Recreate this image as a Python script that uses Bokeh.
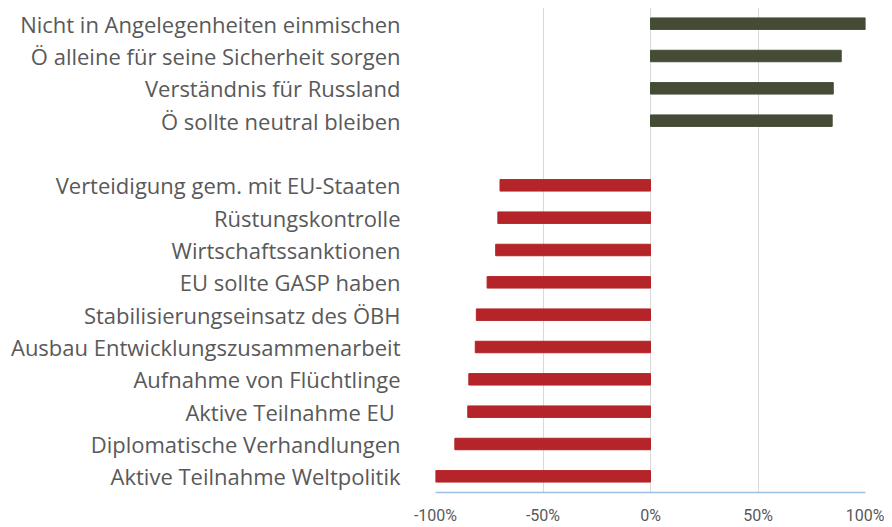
from bokeh.plotting import figure
from bokeh.models import ColumnDataSource, FixedTicker, NumeralTickFormatter, Range1d
from bokeh.embed import file_html
from bokeh.resources import INLINE

top_labels = ["Nicht in Angelegenheiten einmischen",
              "Ö alleine für seine Sicherheit sorgen",
              "Verständnis für Russland",
              "Ö sollte neutral bleiben"]
top_values = [1.00, 0.887, 0.85, 0.845]

bottom_labels = ["Verteidigung gem. mit EU-Staaten",
                 "Rüstungskontrolle",
                 "Wirtschaftssanktionen",
                 "EU sollte GASP haben",
                 "Stabilisierungseinsatz des ÖBH",
                 "Ausbau Entwicklungszusammenarbeit",
                 "Aufnahme von Flüchtlinge",
                 "Aktive Teilnahme EU ",
                 "Diplomatische Verhandlungen",
                 "Aktive Teilnahme Weltpolitik"]
bottom_values = [-0.70, -0.71, -0.72, -0.76, -0.81, -0.815, -0.845, -0.85, -0.91, -1.00]

x_ticks = [-1.0, -0.5, 0.0, 0.5, 1.0]

GREEN = "#454C35"
RED = "#B42428"
TEXT = "#595959"

order = top_labels + [""] + bottom_labels
n = len(order)
ypos = {lab: n - 1 - i for i, lab in enumerate(order)}

top_src = ColumnDataSource(dict(y=[ypos[l] for l in top_labels], v=top_values))
bot_src = ColumnDataSource(dict(y=[ypos[l] for l in bottom_labels], v=bottom_values))

p = figure(width=884, height=527, output_backend="svg", toolbar_location=None,
           x_range=Range1d(-1, 1), y_range=Range1d(-0.5, n - 0.5),
           min_border_left=435, min_border_right=19, min_border_top=7, min_border_bottom=34)
p.outline_line_color = None
p.background_fill_color = "white"
p.border_fill_color = "white"

p.hbar(y="y", left=0, right="v", height=0.355, source=top_src, color=GREEN)
p.hbar(y="y", left=0, right="v", height=0.355, source=bot_src, color=RED)

p.xaxis.ticker = FixedTicker(ticks=x_ticks)
p.xaxis.formatter = NumeralTickFormatter(format="0%")
p.xaxis.axis_line_color = "#9DBFE6"
p.xaxis.axis_line_width = 1.5
p.xaxis.major_tick_line_color = None
p.xaxis.minor_tick_line_color = None
p.xaxis.major_tick_out = 0
p.xaxis.major_tick_in = 0
p.xaxis.major_label_text_font = "Roboto"
p.xaxis.major_label_text_font_size = "16px"
p.xaxis.major_label_text_color = TEXT
p.xaxis.major_label_standoff = 13

p.yaxis.ticker = FixedTicker(ticks=[ypos[l] for l in top_labels + bottom_labels])
p.yaxis.major_label_overrides = {ypos[l]: l for l in top_labels + bottom_labels}
p.yaxis.axis_line_color = None
p.yaxis.major_tick_line_color = None
p.yaxis.minor_tick_line_color = None
p.yaxis.major_tick_out = 0
p.yaxis.major_tick_in = 0
p.yaxis.major_label_text_font = "Open Sans"
p.yaxis.major_label_text_font_size = "22px"
p.yaxis.major_label_text_color = TEXT
p.yaxis.major_label_standoff = 35

p.xgrid.ticker = FixedTicker(ticks=x_ticks)
p.xgrid.grid_line_color = "#D9D9D9"
p.xgrid.grid_line_width = 1
p.ygrid.grid_line_color = None

open("out.html", "w").write(file_html(p, INLINE))
